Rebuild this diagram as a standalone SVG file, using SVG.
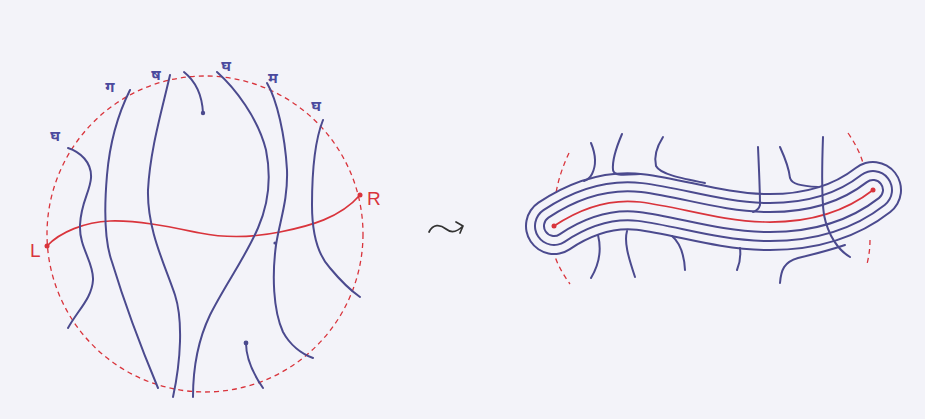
<svg xmlns="http://www.w3.org/2000/svg" width="925" height="419" viewBox="0 0 925 419">
<style>
.s{fill:none;stroke:#4b4a8e;stroke-width:2;stroke-linecap:round;stroke-linejoin:round}
.r{fill:none;stroke:#d9343c;stroke-width:1.7;stroke-linecap:round}
.d{fill:none;stroke:#d9343c;stroke-width:1.3;stroke-dasharray:5 4}
.lab{font-family:"Noto Sans Devanagari","Noto Sans",sans-serif;font-size:15px;font-weight:bold;fill:#4b4a9e;text-anchor:middle}
.lr{font-family:"Liberation Sans",sans-serif;font-size:19px;fill:#d9343c}
.dot{fill:#4b4a8e}
.rd{fill:#d9343c}
</style>
<defs>
<path id="core" d="M554,226 C575,212 605,198 640,202 C680,207 720,221 765,222 C815,223 850,208 873,190"/>
</defs>
<rect width="925" height="419" fill="#f3f3f9"/>
<g id="left-figure">
<circle cx="205" cy="234" r="158" class="d"/>
<path class="r" d="M47,246 C60,232 85,222 110,221 C140,220 175,228 200,233 C225,238 250,238 280,232 C310,226 340,218 360,195"/>
<circle class="rd" cx="47" cy="246" r="2.5"/>
<circle class="rd" cx="360" cy="195" r="2.5"/>
<text class="lr" x="30" y="257">L</text>
<text class="lr" x="367" y="205">R</text>
<path class="s" d="M68,148 C80,152 92,162 91,178 C90,192 81,202 80,225 C79,248 94,262 93,280 C92,298 78,310 68,328"/>
<path class="s" d="M130,90 C120,110 110,140 107,175 C104,210 104,240 112,262 C122,295 140,345 158,388"/>
<path class="s" d="M170,75 C162,110 150,150 148,190 C147,230 165,265 175,295 C183,320 181,360 173,397"/>
<path class="s" d="M184,72 C194,80 202,92 203,113"/>
<circle class="dot" cx="203" cy="113" r="2.2"/>
<path class="s" d="M217,72 C235,88 258,118 266,150 C272,180 268,205 258,228 C245,258 225,285 210,315 C198,340 193,370 193,397"/>
<path class="s" d="M267,83 C277,100 285,135 287,170 C288,200 280,220 276,245 C272,275 273,310 283,332 C290,345 302,354 313,358"/>
<circle class="dot" cx="275" cy="243" r="1.6"/>
<path class="s" d="M323,120 C315,140 312,170 312,205 C312,235 318,255 330,268 C340,280 350,290 360,297"/>
<path class="s" d="M246,343 C246,360 254,375 263,388"/>
<circle class="dot" cx="246" cy="343" r="2.4"/>
<text class="lab" x="55" y="141">घ</text>
<text class="lab" x="110" y="92">ग</text>
<text class="lab" x="156" y="80">ष</text>
<text class="lab" x="226" y="71">घ</text>
<text class="lab" x="273" y="83">म</text>
<text class="lab" x="316" y="111">घ</text>
</g>
<g id="arrow">
<path d="M429,232 C433,224 440,224 446,229 C451,233 457,232 463,226 M456,222 L463,226 L460,233" fill="none" stroke="#333" stroke-width="1.7" stroke-linecap="round" stroke-linejoin="round"/>
</g>
<g id="right-figure">
<path class="d" d="M569,153 C562,168 557,183 555,200"/>
<path class="d" d="M553,250 C556,262 562,273 570,284"/>
<path class="d" d="M848,133 C855,143 860,153 863,163"/>
<path class="d" d="M870,240 C870,248 869,256 867,264"/>
<g fill="none" stroke-linecap="round" stroke-linejoin="round">
<use href="#core" stroke="#4b4a8e" stroke-width="58"/>
<use href="#core" stroke="#f3f3f9" stroke-width="54"/>
<use href="#core" stroke="#4b4a8e" stroke-width="40"/>
<use href="#core" stroke="#f3f3f9" stroke-width="36"/>
<use href="#core" stroke="#4b4a8e" stroke-width="22"/>
<use href="#core" stroke="#f3f3f9" stroke-width="18"/>
</g>
<use href="#core" class="r"/>
<circle class="rd" cx="554" cy="226" r="2.5"/>
<circle class="rd" cx="873" cy="190" r="2.5"/>
<path class="s" d="M591,143 C596,155 596,166 592,174 C590,178 587,180 584,181"/>
<path class="s" d="M622,134 C616,148 612,160 613,170 C614,176 622,175 640,174"/>
<path class="s" d="M663,137 C656,148 654,158 656,166 C660,174 680,178 705,183"/>
<path class="s" d="M758,147 C759,170 760,190 760,205 C759,209 756,211 753,212"/>
<path class="s" d="M780,147 C785,158 789,168 790,178 C792,184 800,186 818,187"/>
<path class="s" d="M823,137 C822,165 821,195 824,215 C828,235 838,250 850,257"/>
<path class="s" d="M598,235 C601,247 600,263 591,278"/>
<path class="s" d="M627,231 C624,242 628,256 635,277"/>
<path class="s" d="M672,236 C679,242 684,251 685,270"/>
<path class="s" d="M740,248 C741,257 740,263 737,270"/>
<path class="s" d="M780,283 C781,270 784,262 798,258 C815,254 830,250 845,245"/>
</g>
</svg>
